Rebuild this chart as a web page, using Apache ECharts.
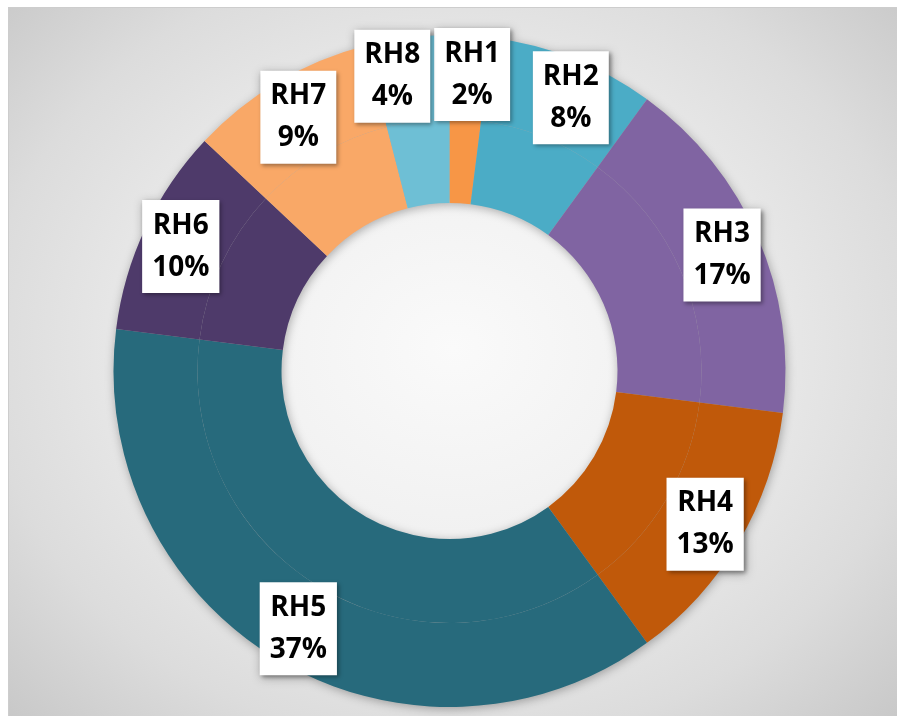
<!DOCTYPE html>
<html>
<head>
<meta charset="utf-8">
<script src="https://cdn.jsdelivr.net/npm/echarts@6/dist/echarts.min.js"></script>
<style>
  html, body { margin: 0; padding: 0; background: #fff; }
  #frame {
    position: absolute; left: 8px; top: 7px; width: 889px; height: 709px;
    box-sizing: border-box; border-top: 1px solid #cdcdcd; border-left: 1px solid #cdcdcd;
    background: radial-gradient(ellipse 70% 75% at 50% 48%, #fafafa 0%, #f1f1f1 35%, #dcdcdc 75%, #c8c8c8 100%);
  }
  #chart {
    position: absolute; left: 0; top: 0; width: 897px; height: 716px;
    filter: drop-shadow(1px 2px 5px rgba(0,0,0,0.3));
  }
</style>
</head>
<body>
<div id="frame"></div>
<div id="chart"></div>
<script>
  // 数据
  const categories = ['RH1', 'RH2', 'RH3', 'RH4', 'RH5', 'RH6', 'RH7', 'RH8']
  const shares = [2, 8, 17, 13, 37, 10, 9, 4]
  const colors = ['#F79646', '#4BACC6', '#8064A2', '#C0590A', '#276A7C', '#4E3A6A', '#F9A867', '#6EBFD5']

  const chart = echarts.init(document.getElementById('chart'))

  // 小扇区标签左右错开，避免重叠
  const labelOffsets = { RH1: [4, 0], RH2: [12, 3], RH8: [-20, 0] }

  const innerData = categories.map((name, i) => ({
    name: name,
    value: shares[i],
    itemStyle: { color: colors[i] }
  }))

  const outerData = categories.map((name, i) => ({
    name: name,
    value: shares[i],
    itemStyle: { color: colors[i] },
    label: { offset: labelOffsets[name] || [0, 2] }
  }))

  const center = [449.5, 371]

  const options = {
    animation: false,
    series: [
      // 内圈（无标签）
      {
        type: 'pie',
        center: center,
        radius: [168, 252],
        startAngle: 90,
        clockwise: true,
        silent: true,
        avoidLabelOverlap: false,
        itemStyle: { borderWidth: 0 },
        label: { show: false },
        labelLine: { show: false },
        data: innerData
      },
      // 外圈（带标签）
      {
        type: 'pie',
        center: center,
        radius: [252, 336],
        startAngle: 90,
        clockwise: true,
        silent: true,
        avoidLabelOverlap: false,
        labelLayout: { hideOverlap: false },
        itemStyle: { borderWidth: 0 },
        labelLine: { show: false },
        label: {
          show: true,
          position: 'inside',
          formatter: (p) => p.name + '\n' + p.value + '%',
          color: '#000',
          fontFamily: 'Open Sans',
          fontWeight: 'bold',
          fontSize: 28,
          lineHeight: 42,
          align: 'center',
          backgroundColor: '#fff',
          padding: [5, 10, 4, 10],
          shadowColor: 'rgba(0,0,0,0.35)',
          shadowBlur: 4,
          shadowOffsetX: 2,
          shadowOffsetY: 2
        },
        data: outerData
      }
    ]
  }

  chart.setOption(options)
</script>
</body>
</html>
